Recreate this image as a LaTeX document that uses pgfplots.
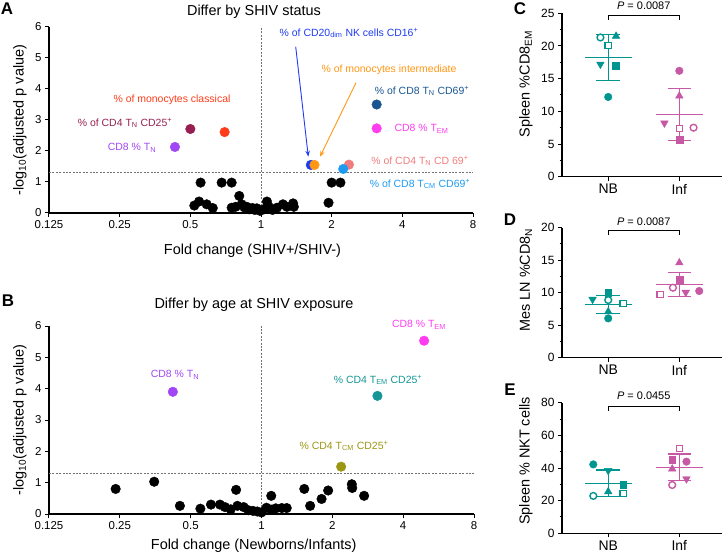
\documentclass[border=0pt]{standalone}
\usepackage{pgfplots}
\pgfplotsset{compat=1.18}
\usepackage{fontspec}
\setmainfont{Liberation Sans}
\setsansfont{Liberation Sans}
\usetikzlibrary{arrows.meta}
\definecolor{tealc}{RGB}{0,150,143}
\definecolor{pinkc}{RGB}{198,88,164}
\definecolor{cTN}{RGB}{160,70,245}
\definecolor{cCDfourNtf}{RGB}{150,30,80}
\definecolor{cmono}{RGB}{255,60,25}
\definecolor{cNK}{RGB}{30,60,240}
\definecolor{cmonoI}{RGB}{255,150,20}
\definecolor{cCDeightN}{RGB}{25,85,145}
\definecolor{cTEM}{RGB}{255,60,240}
\definecolor{cCDfourNsn}{RGB}{240,125,125}
\definecolor{cTCM}{RGB}{30,155,240}
\definecolor{cTEMtf}{RGB}{20,150,150}
\definecolor{cTCMtf}{RGB}{155,150,20}
\pgfplotsset{
  every axis/.append style={
    scale only axis,
    axis x line*=bottom, axis y line*=left,
    axis line style={line width=1.1pt},
    tick align=outside, major tick length=4bp, minor tick length=2.5bp,
    every tick/.append style={line width=1pt, black},
    clip=false,
  },
  sDot/.style={only marks, mark=*, mark size=4.8bp, color=#1, mark options={solid}},
  sThr/.style={black!55, line width=1pt, dash pattern=on 2pt off 1.4pt},
  sFc/.style={only marks, color=#1, mark=*, mark size=3.8bp, mark options={solid}},
  sOc/.style={only marks, color=#1, mark=*, mark size=3.4bp, mark options={solid, fill=white, line width=1.4pt}},
  sFs/.style={only marks, color=#1, mark=square*, mark size=3.4bp, mark options={solid}},
  sOs/.style={only marks, color=#1, mark=square*, mark size=3.1bp, mark options={solid, fill=white, line width=1.4pt}},
  sTu/.style={only marks, color=#1, mark=triangle*, mark size=4.4bp, mark options={solid}},
  sTd/.style={only marks, color=#1, mark=triangle*, mark size=4.4bp, mark options={solid, rotate=180}},
  sMsd/.style={color=#1, line width=1.1pt},
  sBrk/.style={black, line width=0.9pt},
}
\newcommand\ann{\fontsize{10.5}{12}\selectfont}
\newcommand\lab{\fontsize{14.5}{16}\selectfont}
\newcommand\plet{\fontsize{17}{18}\selectfont\bfseries}
\newcommand\vtick{\fontsize{11.5}{13}\selectfont}
\newcommand\stick{\fontsize{12}{14}\selectfont}
\newcommand\ntick{\fontsize{14}{16}\selectfont}
\begin{document}
\begin{tikzpicture}
\path[use as bounding box] (0,0) rectangle (725bp,554bp);
% ---------- Panel A ----------
\begin{axis}[at={(49bp,341bp)}, anchor=south west, width=424bp, height=186bp,
  xmode=log, log basis x=2, xmin=0.125, xmax=8, ymin=0, ymax=6,
  xtick={0.125,0.25,0.5,1,2,4,8}, xticklabels={0.125,0.25,0.5,1,2,4,8},
  ytick={0,1,2,3,4,5,6}, yticklabels={0,1,2,3,4,5,6},
  ticklabel style={font=\vtick}]
\addplot[sThr] coordinates {(1,0) (1,6)};
\addplot[sThr] coordinates {(0.125,1.301) (8,1.301)};
\addplot[sDot=black] coordinates {
(0.52,0.24) (0.545,0.37) (0.553,0.98) (0.587,0.28) (0.623,0.16) (0.68,0.98) (0.75,0.98)
(0.75,0.17) (0.78,0.2) (0.808,0.55) (0.827,0.28) (0.85,0.18) (0.87,0.2) (0.89,0.12)
(0.92,0.16) (0.94,0.1) (0.96,0.15) (0.99,0.07) (1.03,0.12) (1.05,0.15) (1.06,0.37)
(1.08,0.2) (1.12,0.1) (1.17,0.17) (1.24,0.28) (1.29,0.2) (1.37,0.31) (1.38,0.2)
(1.94,0.33) (2.0,0.98) (2.18,0.98)};
\addplot[sDot=cTN] coordinates {(0.43,2.13)};
\addplot[sDot=cCDfourNtf] coordinates {(0.50,2.71)};
\addplot[sDot=cmono] coordinates {(0.70,2.61)};
\addplot[sDot=cNK] coordinates {(1.63,1.55)};
\addplot[sDot=cmonoI] coordinates {(1.69,1.55)};
\addplot[sDot=cCDeightN] coordinates {(3.11,3.50)};
\addplot[sDot=cTEM] coordinates {(3.11,2.73)};
\addplot[sDot=cCDfourNsn] coordinates {(2.37,1.56)};
\addplot[sDot=cTCM] coordinates {(2.24,1.42)};
\end{axis}
% ---------- Panel B ----------
\begin{axis}[at={(49bp,40bp)}, anchor=south west, width=425bp, height=188bp,
  xmode=log, log basis x=2, xmin=0.125, xmax=8, ymin=0, ymax=6,
  xtick={0.125,0.25,0.5,1,2,4,8}, xticklabels={0.125,0.25,0.5,1,2,4,8},
  ytick={0,1,2,3,4,5,6}, yticklabels={0,1,2,3,4,5,6},
  ticklabel style={font=\vtick}]
\addplot[sThr] coordinates {(1,0) (1,6)};
\addplot[sThr] coordinates {(0.125,1.301) (8,1.301)};
\addplot[sDot=black] coordinates {
(0.24,0.8) (0.35,1.03) (0.45,0.26) (0.55,0.17) (0.61,0.3) (0.666,0.3) (0.70,0.22)
(0.74,0.15) (0.78,0.77) (0.79,0.26) (0.84,0.22) (0.88,0.12) (0.92,0.1) (0.96,0.08)
(1.0,0.05) (1.05,0.2) (1.1,0.58) (1.1,0.14) (1.15,0.18) (1.22,0.19) (1.28,0.19)
(1.52,0.8) (1.61,0.26) (1.8,0.48) (1.92,0.75) (2.42,0.95) (2.43,0.83) (2.73,0.58)};
\addplot[sDot=cTN] coordinates {(0.42,3.9)};
\addplot[sDot=cTEM] coordinates {(4.91,5.53)};
\addplot[sDot=cTEMtf] coordinates {(3.11,3.77)};
\addplot[sDot=cTCMtf] coordinates {(2.18,1.51)};
\end{axis}
% ---------- Panel C ----------
\begin{axis}[at={(562bp,377.3bp)}, anchor=south west, width=160bp, height=163.4bp,
  xmin=0.35, xmax=2.6, xtick={1,2}, xticklabels={NB,Inf},
  xticklabel style={font=\ntick}, yticklabel style={font=\stick},
  ymin=0, ymax=25, ytick={0,5,10,15,20,25}, yticklabels={0,5,10,15,20,25},
  minor ytick={2.5,7.5,12.5,17.5,22.5}]
\addplot[sMsd=tealc] coordinates {(0.67,18.2) (1.33,18.2)};
\addplot[sMsd=tealc] coordinates {(0.835,21.8) (1.165,21.8)};
\addplot[sMsd=tealc] coordinates {(0.835,14.7) (1.165,14.7)};
\addplot[sMsd=tealc] coordinates {(1,14.7) (1,21.8)};
\addplot[sMsd=pinkc] coordinates {(1.67,9.54) (2.33,9.54)};
\addplot[sMsd=pinkc] coordinates {(1.835,13.5) (2.165,13.5)};
\addplot[sMsd=pinkc] coordinates {(1.835,5.56) (2.165,5.56)};
\addplot[sMsd=pinkc] coordinates {(2,5.56) (2,13.5)};
\addplot[sOc=tealc] coordinates {(0.89,21.3)};
\addplot[sTu=tealc] coordinates {(1.11,21.5)};
\addplot[sOs=tealc] coordinates {(1,20.05)};
\addplot[sTd=tealc] coordinates {(0.89,17.2)};
\addplot[sFs=tealc] coordinates {(1.11,17.0)};
\addplot[sFc=tealc] coordinates {(1,12.2)};
\addplot[sFc=pinkc] coordinates {(2,16.2)};
\addplot[sTu=pinkc] coordinates {(2,12.35)};
\addplot[sTd=pinkc] coordinates {(1.79,8.2)};
\addplot[sOs=pinkc] coordinates {(2,7.4)};
\addplot[sOc=pinkc] coordinates {(2.2,7.5)};
\addplot[sFs=pinkc] coordinates {(2,5.7)};
\addplot[sBrk] coordinates {(1,24.0) (1,24.7) (2,24.7) (2,24.0)};
\node[font=\fontsize{11}{13}\selectfont] at (axis cs:1.5,26.1) {\textit{P} = 0.0087};
\end{axis}
% ---------- Panel D ----------
\begin{axis}[at={(562bp,196.3bp)}, anchor=south west, width=160bp, height=130bp,
  xmin=0.35, xmax=2.6, xtick={1,2}, xticklabels={NB,Inf},
  xticklabel style={font=\ntick}, yticklabel style={font=\stick},
  ymin=0, ymax=20, ytick={0,5,10,15,20}, yticklabels={0,5,10,15,20},
  minor ytick={2.5,7.5,12.5,17.5}]
\addplot[sMsd=tealc] coordinates {(0.67,8.2) (1.33,8.2)};
\addplot[sMsd=tealc] coordinates {(0.835,9.6) (1.165,9.6)};
\addplot[sMsd=tealc] coordinates {(0.835,6.8) (1.165,6.8)};
\addplot[sMsd=tealc] coordinates {(1,6.8) (1,9.6)};
\addplot[sMsd=pinkc] coordinates {(1.67,11.28) (2.33,11.28)};
\addplot[sMsd=pinkc] coordinates {(1.835,13.1) (2.165,13.1)};
\addplot[sMsd=pinkc] coordinates {(1.835,9.4) (2.165,9.4)};
\addplot[sMsd=pinkc] coordinates {(2,9.4) (2,13.1)};
\addplot[sTd=tealc] coordinates {(0.78,8.97)};
\addplot[sFs=tealc] coordinates {(1,10.05)};
\addplot[sOc=tealc] coordinates {(1,8.87)};
\addplot[sTu=tealc] coordinates {(1,7.08)};
\addplot[sFc=tealc] coordinates {(1,6.05)};
\addplot[sOs=tealc] coordinates {(1.21,8.36)};
\addplot[sTu=pinkc] coordinates {(2,14.6)};
\addplot[sFs=pinkc] coordinates {(2,12.05)};
\addplot[sOc=pinkc] coordinates {(1.91,10.77)};
\addplot[sOs=pinkc] coordinates {(1.73,9.74)};
\addplot[sTd=pinkc] coordinates {(2.09,10.05)};
\addplot[sFc=pinkc] coordinates {(2.28,10.26)};
\addplot[sBrk] coordinates {(1,18.8) (1,19.5) (2,19.5) (2,18.8)};
\node[font=\fontsize{11}{13}\selectfont] at (axis cs:1.5,20.9) {\textit{P} = 0.0087};
\end{axis}
% ---------- Panel E ----------
\begin{axis}[at={(562bp,20.7bp)}, anchor=south west, width=160bp, height=130.6bp,
  xmin=0.35, xmax=2.6, xtick={1,2}, xticklabels={NB,Inf},
  xticklabel style={font=\ntick}, yticklabel style={font=\stick},
  ymin=0, ymax=80, ytick={0,20,40,60,80}, yticklabels={0,20,40,60,80},
  minor ytick={10,30,50,70}]
\addplot[sMsd=tealc] coordinates {(0.67,30.6) (1.33,30.6)};
\addplot[sMsd=tealc] coordinates {(0.835,38.8) (1.165,38.8)};
\addplot[sMsd=tealc] coordinates {(0.835,22.4) (1.165,22.4)};
\addplot[sMsd=tealc] coordinates {(1,22.4) (1,38.8)};
\addplot[sMsd=pinkc] coordinates {(1.67,40.2) (2.33,40.2)};
\addplot[sMsd=pinkc] coordinates {(1.835,48.6) (2.165,48.6)};
\addplot[sMsd=pinkc] coordinates {(1.835,32.2) (2.165,32.2)};
\addplot[sMsd=pinkc] coordinates {(2,32.2) (2,48.6)};
\addplot[sFc=tealc] coordinates {(0.79,42.2)};
\addplot[sTd=tealc] coordinates {(1,38.4)};
\addplot[sFs=tealc] coordinates {(1.21,29.6)};
\addplot[sTu=tealc] coordinates {(1,25.5)};
\addplot[sOs=tealc] coordinates {(1.21,24.5)};
\addplot[sOc=tealc] coordinates {(0.79,22.9)};
\addplot[sOs=pinkc] coordinates {(2,52)};
\addplot[sFs=pinkc] coordinates {(1.9,45.3)};
\addplot[sFc=pinkc] coordinates {(2.1,43.9)};
\addplot[sTu=pinkc] coordinates {(1.9,39.4)};
\addplot[sTd=pinkc] coordinates {(2.1,33.3)};
\addplot[sOc=pinkc] coordinates {(1.9,29.6)};
\addplot[sBrk] coordinates {(1,75) (1,78) (2,78) (2,75)};
\node[font=\fontsize{11}{13}\selectfont] at (axis cs:1.5,84.1) {\textit{P} = 0.0455};
\end{axis}
% ---------- texts ----------
\node[font=\plet] at (7bp,545bp) {A};
\node[font=\plet] at (8bp,253bp) {B};
\node[font=\plet] at (520bp,545bp) {C};
\node[font=\plet] at (510bp,334bp) {D};
\node[font=\plet] at (510bp,164bp) {E};
\node[font=\lab] at (254bp,542bp) {Differ by SHIV status};
\node[font=\lab] at (254bp,249bp) {Differ by age at SHIV exposure};
\node[font=\lab] at (252.5bp,303bp) {Fold change (SHIV+/SHIV-)};
\node[font=\lab] at (253.7bp,8bp) {Fold change (Newborns/Infants)};
\node[font=\lab, rotate=90] at (20bp,434bp) {-log\textsubscript{10}(adjusted p value)};
\node[font=\lab, rotate=90] at (20bp,134bp) {-log\textsubscript{10}(adjusted p value)};
\node[font=\lab, rotate=90] at (526bp,470bp) {Spleen \%CD8\textsubscript{EM}};
\node[font=\lab, rotate=90] at (526bp,274bp) {Mes LN \%CD8\textsubscript{N}};
\node[font=\lab, rotate=90] at (526bp,93bp) {Spleen \% NKT cells};
% annotations A
\node[font=\ann, text=cmono] at (172bp,454bp) {\% of monocytes classical};
\node[font=\ann, text=cCDfourNtf] at (125bp,431bp) {\% of CD4 T\textsubscript{N} CD25\textsuperscript{+}};
\node[font=\ann, text=cTN] at (132bp,406bp) {CD8 \% T\textsubscript{N}};
\node[font=\ann, text=cNK] at (349bp,521bp) {\% of CD20\textsubscript{dim} NK cells CD16\textsuperscript{+}};
\node[font=\ann, text=cmonoI] at (389bp,484bp) {\% of monocytes intermediate};
\node[font=\ann, text=cCDeightN] at (422bp,463bp) {\% of CD8 T\textsubscript{N} CD69\textsuperscript{+}};
\node[font=\ann, text=cTEM, anchor=west] at (391bp,425bp) {CD8 \% T\textsubscript{EM}};
\node[font=\ann, text=cCDfourNsn] at (420bp,393bp) {\% of CD4 T\textsubscript{N} CD 69\textsuperscript{+}};
\node[font=\ann, text=cTCM] at (420bp,370bp) {\% of CD8 T\textsubscript{CM} CD69\textsuperscript{+}};
\draw[cNK, line width=0.9pt, -{Stealth[length=6bp,width=4.5bp]}] (295.7bp,507.3bp) -- (308.3bp,397.3bp);
\draw[cmonoI, line width=0.9pt, -{Stealth[length=6bp,width=4.5bp]}] (356bp,471.3bp) -- (320bp,397.3bp);
% annotations B
\node[font=\ann, text=cTN] at (175bp,179bp) {CD8 \% T\textsubscript{N}};
\node[font=\ann, text=cTEM] at (419bp,229bp) {CD8 \% T\textsubscript{EM}};
\node[font=\ann, text=cTEMtf] at (378bp,174bp) {\% CD4 T\textsubscript{EM} CD25\textsuperscript{+}};
\node[font=\ann, text=cTCMtf] at (344bp,108bp) {\% CD4 T\textsubscript{CM} CD25\textsuperscript{+}};
\end{tikzpicture}
\end{document}
